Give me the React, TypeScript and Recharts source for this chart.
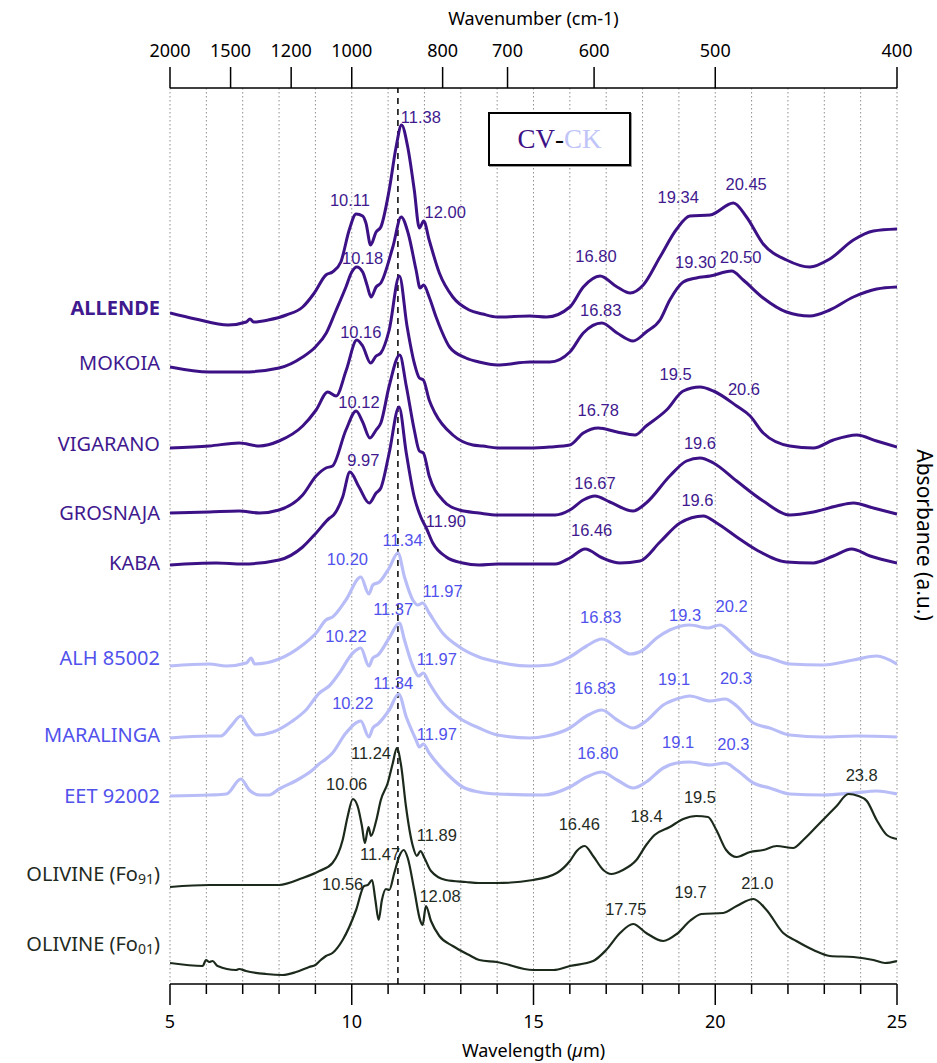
import React from "react";
import {
  LineChart,
  Line,
  XAxis,
  YAxis,
  CartesianGrid,
  ReferenceLine,
  ReferenceDot,
} from "recharts";

type Pt = [number, number];

// spectra: [wavelength (µm), absorbance relative to the spectrum's own 5 µm level (a.u.)]
const allende: Pt[] = [
  [5, 0], [5.7, -0.06], [6.6, -0.12], [7.1, -0.09], [7.2, -0.06], [7.3, -0.09], [7.7, -0.07],
  [8.2, -0.02], [8.65, 0.06], [8.97, 0.2], [9.29, 0.38], [9.47, 0.41], [9.7, 0.51], [9.93, 0.83],
  [10.12, 0.99], [10.3, 0.97], [10.39, 0.9], [10.52, 0.68], [10.67, 0.81], [10.8, 0.86],
  [11.03, 1.23], [11.22, 1.66], [11.37, 1.88], [11.54, 1.66], [11.72, 1.23], [11.86, 0.85],
  [11.98, 0.92], [12.13, 0.73], [12.41, 0.4], [12.78, 0.16], [13.23, 0.03], [13.6, -0.01],
  [14.01, -0.04], [14.9, -0.03], [15.36, -0.04], [16, 0.06], [16.37, 0.26], [16.83, 0.37],
  [17.3, 0.26], [17.66, 0.2], [18.02, 0.28], [18.48, 0.56], [18.94, 0.84], [19.3, 0.97],
  [19.86, 0.98], [20.5, 1.1], [20.86, 0.96], [21.32, 0.69], [21.96, 0.53], [22.6, 0.46],
  [23.15, 0.54], [23.8, 0.73], [24.35, 0.82], [25, 0.84],
];

const mokoia: Pt[] = [
  [5, 0], [6.08, -0.05], [7, -0.05], [8, -0.01], [8.65, 0.1], [9, 0.2], [9.3, 0.34], [9.55, 0.55],
  [9.84, 0.8], [10, 0.95], [10.14, 1.0], [10.3, 0.95], [10.42, 0.82], [10.53, 0.7], [10.67, 0.8],
  [10.8, 0.84], [11.13, 1.2], [11.36, 1.5], [11.55, 1.34], [11.77, 0.97], [11.88, 0.79],
  [11.98, 0.82], [12.13, 0.7], [12.32, 0.5], [12.46, 0.37], [12.69, 0.2], [13.14, 0.09],
  [13.5, 0.05], [14.01, 0.02], [14.9, 0.05], [15.45, 0.05], [16, 0.15], [16.37, 0.34],
  [16.88, 0.44], [17.3, 0.34], [17.74, 0.26], [18.1, 0.35], [18.48, 0.47], [18.75, 0.67],
  [19.12, 0.85], [19.48, 0.89], [19.86, 0.91], [20.45, 0.96], [20.77, 0.87], [21.32, 0.69],
  [21.96, 0.55], [22.6, 0.51], [23.15, 0.57], [23.8, 0.7], [24.44, 0.78], [25, 0.8],
];

const vigarano: Pt[] = [
  [5, 0], [6.08, 0.02], [6.9, 0.05], [7.46, 0.02], [8, 0.07], [8.65, 0.22], [9.02, 0.38],
  [9.34, 0.56], [9.57, 0.52], [9.85, 0.78], [10.14, 1.08], [10.3, 1.02], [10.52, 0.85],
  [10.67, 0.92], [10.8, 0.95], [11.03, 1.18], [11.31, 1.72], [11.52, 1.22], [11.72, 0.85],
  [11.86, 0.7], [11.97, 0.68], [12.13, 0.48], [12.29, 0.35], [12.78, 0.13], [13.33, 0.03],
  [13.6, 0.02], [14.01, 0], [14.9, 0], [15.45, 0.01], [16, 0.03], [16.37, 0.15], [16.78, 0.2],
  [17.3, 0.16], [17.79, 0.13], [18.1, 0.22], [18.66, 0.38], [19.12, 0.57], [19.58, 0.61],
  [19.95, 0.57], [20.59, 0.42], [20.96, 0.32], [21.32, 0.15], [22.05, 0.02], [22.7, 0],
  [23.25, 0.08], [23.89, 0.13], [24.44, 0.07], [25, 0.01],
];

const grosnaja: Pt[] = [
  [5, 0], [6.08, 0.01], [6.9, 0.02], [7.46, 0], [8, 0.03], [8.65, 0.18], [9.02, 0.37],
  [9.29, 0.45], [9.47, 0.47], [9.84, 0.83], [10.12, 1.02], [10.3, 0.91], [10.5, 0.75],
  [10.67, 0.83], [10.8, 0.9], [11.03, 1.27], [11.32, 1.58], [11.5, 1.27], [11.72, 0.83],
  [11.86, 0.62], [11.97, 0.6], [12.13, 0.37], [12.5, 0.13], [12.96, 0.03], [13.5, 0],
  [14.01, -0.02], [14.9, -0.02], [15.6, -0.02], [16, 0.03], [16.37, 0.13], [16.69, 0.17],
  [17.1, 0.11], [17.74, 0.02], [18.1, 0.1], [18.75, 0.37], [19.21, 0.52], [19.58, 0.55],
  [19.95, 0.5], [20.59, 0.32], [21.32, 0.12], [22.05, -0.02], [22.7, 0.01], [23.34, 0.07],
  [23.8, 0.1], [24.35, 0.05], [25, -0.01],
];

const kaba: Pt[] = [
  [5, 0], [6.27, 0.02], [7, 0.01], [8, 0.05], [8.65, 0.18], [9.02, 0.32], [9.39, 0.47],
  [9.5, 0.5], [9.75, 0.68], [9.95, 0.93], [10.2, 0.78], [10.48, 0.62], [10.67, 0.72],
  [10.8, 0.77], [11.03, 1.12], [11.3, 1.58], [11.5, 1.12], [11.72, 0.68], [11.9, 0.48],
  [12.05, 0.37], [12.23, 0.22], [12.6, 0.08], [13.05, 0.02], [13.5, 0], [14.01, 0.01],
  [15.6, 0.01], [16, 0.07], [16.42, 0.16], [16.9, 0.07], [17.38, 0.02], [17.93, 0.04],
  [18.48, 0.23], [19.03, 0.42], [19.67, 0.49], [20.04, 0.42], [20.59, 0.28], [21.14, 0.15],
  [21.96, 0.03], [22.7, 0.02], [23.25, 0.09], [23.75, 0.16], [24.26, 0.09], [25, 0.02],
];

const alh85002: Pt[] = [
  [5, 0], [6.08, 0.02], [6.55, 0], [7.1, 0.03], [7.23, 0.08], [7.33, 0.02], [8, 0.07],
  [8.65, 0.21], [9.02, 0.33], [9.29, 0.46], [9.47, 0.49], [9.84, 0.66], [10.25, 0.89],
  [10.47, 0.72], [10.58, 0.81], [10.76, 0.84], [11.03, 0.98], [11.27, 1.13], [11.45, 0.89],
  [11.68, 0.66], [11.82, 0.61], [11.95, 0.63], [12.13, 0.53], [12.5, 0.33], [12.96, 0.19],
  [13.5, 0.09], [14.01, 0.04], [14.9, 0], [15.45, 0.01], [16, 0.09], [16.46, 0.2], [16.88, 0.27],
  [17.3, 0.19], [17.66, 0.12], [18.02, 0.16], [18.39, 0.28], [18.75, 0.36], [19.3, 0.41],
  [19.8, 0.38], [20.13, 0.41], [20.5, 0.31], [21.05, 0.13], [21.5, 0.08], [22.05, 0.02],
  [22.97, 0.01], [23.8, 0.06], [24.44, 0.1], [25, 0.02],
];

const maralinga: Pt[] = [
  [5, 0], [6.08, 0.02], [6.4, 0.02], [6.68, 0.12], [6.95, 0.22], [7.14, 0.12], [7.37, 0.03],
  [7.83, 0.06], [8.37, 0.17], [8.74, 0.28], [9.11, 0.45], [9.38, 0.52], [9.66, 0.65],
  [10.03, 0.85], [10.25, 0.9], [10.47, 0.72], [10.58, 0.8], [10.72, 0.83], [11.03, 1.0],
  [11.31, 1.15], [11.45, 0.98], [11.68, 0.72], [11.84, 0.62], [11.97, 0.65], [12.13, 0.55],
  [12.5, 0.35], [12.96, 0.2], [13.5, 0.1], [14.01, 0.03], [14.9, 0], [15.36, 0.02], [16, 0.1],
  [16.46, 0.22], [16.88, 0.28], [17.3, 0.18], [17.74, 0.1], [18.1, 0.17], [18.57, 0.33],
  [18.94, 0.39], [19.3, 0.42], [19.86, 0.37], [20.27, 0.39], [20.59, 0.32], [21.05, 0.15],
  [21.5, 0.1], [22.05, 0.03], [22.97, 0.01], [23.89, 0.02], [25, 0.01],
];

const eet92002: Pt[] = [
  [5, 0], [6.08, 0.01], [6.55, 0.02], [6.95, 0.17], [7.18, 0.06], [7.46, 0.01], [7.73, 0.01],
  [8, 0.07], [8.5, 0.16], [8.92, 0.26], [9.1, 0.32], [9.29, 0.37], [9.47, 0.43], [9.84, 0.63],
  [10.25, 0.75], [10.47, 0.59], [10.58, 0.68], [10.72, 0.72], [11.03, 0.86], [11.29, 1.02],
  [11.5, 0.79], [11.77, 0.56], [11.86, 0.49], [11.97, 0.52], [12.13, 0.43], [12.6, 0.23],
  [13.05, 0.09], [13.5, 0.04], [14.01, 0.02], [15.27, 0.01], [16, 0.09], [16.46, 0.19],
  [16.88, 0.24], [17.3, 0.16], [17.74, 0.08], [18.1, 0.14], [18.57, 0.28], [18.94, 0.33],
  [19.3, 0.34], [19.86, 0.31], [20.27, 0.33], [20.59, 0.26], [21.05, 0.13], [21.5, 0.08],
  [22.05, 0.02], [22.97, 0.01], [23.8, 0.03], [24.44, 0.05], [25, 0.02],
];

const olivineFo91: Pt[] = [
  [5, 0], [6.08, 0.02], [7, 0.02], [8, 0.02], [8.65, 0.09], [9.11, 0.16], [9.47, 0.24],
  [9.75, 0.47], [9.89, 0.71], [10.03, 0.88], [10.16, 0.81], [10.28, 0.61], [10.36, 0.44],
  [10.46, 0.6], [10.53, 0.51], [10.67, 0.66], [10.8, 0.87], [10.99, 1.04], [11.13, 1.24],
  [11.24, 1.39], [11.36, 1.21], [11.49, 0.81], [11.68, 0.41], [11.79, 0.31], [11.89, 0.36],
  [12, 0.29], [12.18, 0.16], [12.59, 0.07], [13.14, 0.05], [13.5, 0.04], [14, 0.04],
  [14.99, 0.07], [15.64, 0.14], [16, 0.26], [16.19, 0.36], [16.41, 0.41], [16.64, 0.31],
  [16.92, 0.17], [17.14, 0.13], [17.46, 0.17], [17.83, 0.27], [18.1, 0.42], [18.33, 0.52],
  [18.75, 0.6], [19.12, 0.68], [19.48, 0.71], [19.8, 0.7], [20.03, 0.57], [20.3, 0.37],
  [20.59, 0.3], [20.96, 0.35], [21.32, 0.37], [21.69, 0.41], [22.14, 0.39], [22.42, 0.47],
  [22.88, 0.64], [23.34, 0.81], [23.66, 0.93], [23.94, 0.91], [24.17, 0.86], [24.44, 0.67],
  [24.72, 0.52], [25, 0.48],
];

const olivineFo01: Pt[] = [
  [5, 0], [5.9, -0.03], [5.99, 0.03], [6.08, 0.01], [6.17, 0.02], [6.31, -0.03], [6.82, -0.07],
  [6.9, -0.06], [7.09, -0.08], [7.64, -0.11], [8.1, -0.12], [8.47, -0.09], [8.83, -0.04],
  [9, -0.02], [9.15, 0.03], [9.29, 0.07], [9.47, 0.1], [9.75, 0.23], [10.12, 0.53], [10.34, 0.77],
  [10.44, 0.78], [10.56, 0.83], [10.65, 0.63], [10.74, 0.43], [10.83, 0.63], [10.94, 0.74],
  [11.03, 0.73], [11.17, 0.9], [11.31, 1.07], [11.43, 1.13], [11.54, 1.05], [11.72, 0.73],
  [11.88, 0.43], [11.95, 0.38], [12.04, 0.57], [12.18, 0.42], [12.41, 0.27], [12.78, 0.17],
  [13.23, 0.08], [13.51, 0.03], [13.99, 0.01], [14.99, -0.07], [15.55, -0.07], [16, -0.03],
  [16.64, 0.02], [17, 0.13], [17.38, 0.3], [17.74, 0.39], [18.1, 0.3], [18.57, 0.22],
  [18.94, 0.29], [19.3, 0.42], [19.62, 0.49], [20.22, 0.5], [20.59, 0.57], [21.05, 0.64],
  [21.41, 0.53], [21.87, 0.3], [22.23, 0.22], [22.7, 0.13], [23.15, 0.07], [23.8, 0.06],
  [24.35, 0.03], [24.67, 0], [25, 0.02],
];

// stacking offsets (a.u.), top to bottom
const stackOffsets = [6.71, 6.17, 5.36, 4.71, 4.19, 3.18, 2.46, 1.88, 0.97, 0.21];
const sampleNames = [
  "ALLENDE", "MOKOIA", "VIGARANO", "GROSNAJA", "KABA",
  "ALH 85002", "MARALINGA", "EET 92002", "OLIVINE (Fo91)", "OLIVINE (Fo01)",
];
const sampleLabelLevels = [6.77, 6.22, 5.41, 4.72, 4.22, 3.27, 2.5, 1.89, 1.11, 0.41];
const spectra = [
  allende, mokoia, vigarano, grosnaja, kaba, alh85002, maralinga, eet92002, olivineFo91, olivineFo01,
];
const groups = ["cv", "cv", "cv", "cv", "cv", "ck", "ck", "ck", "ol", "ol"];

// band position labels: [text, wavelength, level]
const cvPeaks: [string, number, number][] = [
  ["11.38", 11.9, 8.67], ["10.11", 9.95, 7.84], ["12.00", 12.57, 7.72], ["10.18", 10.3, 7.26],
  ["16.80", 16.72, 7.28], ["19.34", 18.98, 7.87], ["20.45", 20.85, 8.0], ["19.30", 19.46, 7.22],
  ["20.50", 20.7, 7.27], ["16.83", 16.85, 6.74], ["10.16", 10.25, 6.52], ["10.12", 10.2, 5.82],
  ["9.97", 10.32, 5.24], ["11.90", 12.59, 4.63], ["19.5", 18.91, 6.1], ["20.6", 20.79, 5.95],
  ["16.78", 16.78, 5.74], ["19.6", 19.58, 5.41], ["16.67", 16.69, 5.01], ["19.6", 19.51, 4.84],
  ["16.46", 16.6, 4.54],
];
const ckPeaks: [string, number, number][] = [
  ["11.34", 11.4, 4.44], ["10.20", 9.88, 4.25], ["11.97", 12.5, 3.93], ["16.83", 16.85, 3.67],
  ["19.3", 19.17, 3.69], ["20.2", 20.45, 3.78], ["11.37", 11.14, 3.75], ["10.22", 9.84, 3.48],
  ["11.97", 12.34, 3.25], ["16.83", 16.69, 2.96], ["19.1", 18.87, 3.05], ["20.3", 20.57, 3.06],
  ["11.34", 11.14, 3.01], ["10.22", 10.03, 2.81], ["11.97", 12.34, 2.5], ["16.80", 16.77, 2.31],
  ["19.1", 18.98, 2.42], ["20.3", 20.5, 2.4],
];
const olivinePeaks: [string, number, number][] = [
  ["23.8", 24.03, 2.09], ["11.24", 10.53, 2.31], ["10.06", 9.86, 2.0], ["11.89", 12.34, 1.49],
  ["11.47", 10.78, 1.3], ["10.56", 9.75, 1.0], ["12.08", 12.43, 0.88], ["16.46", 16.26, 1.6],
  ["18.4", 18.11, 1.68], ["19.5", 19.58, 1.87], ["17.75", 17.54, 0.75], ["19.7", 19.32, 0.92],
  ["21.0", 21.16, 1.01],
];

const wavelengthTicks = [5, 6, 7, 8, 9, 10, 11, 12, 13, 14, 15, 16, 17, 18, 19, 20, 21, 22, 23, 24, 25];
const wavenumberTicks = [2000, 1500, 1200, 1000, 800, 700, 600, 500, 400];
const dashedAt = 11.27;

const lineColor: Record<string, string> = { cv: "#3d1186", ck: "#b8bdf7", ol: "#1c2a1c" };
const textColor: Record<string, string> = { cv: "#40198e", ck: "#5152ec", ol: "#1f2b1f" };
const lineWidth: Record<string, number> = { cv: 3, ck: 3.2, ol: 2.2 };

const AXIS_FONT = "'Noto Sans', 'DejaVu Sans', sans-serif";
const LABEL_FONT = "'Liberation Sans', Arial, sans-serif";
const axisStyle = { stroke: "#000", strokeWidth: 1.5 };

function BottomTick(props: any) {
  const { x, y, payload } = props;
  const v = payload.value;
  const major = v % 5 === 0;
  return (
    <g>
      <line x1={x} y1={y} x2={x} y2={y + (major ? 21 : 10)} stroke="#000" strokeWidth={1.5} />
      {major && (
        <text x={x} y={y + 37} textAnchor="middle" dominantBaseline="central" fontSize={18} fontFamily={AXIS_FONT} fill="#000">
          {v}
        </text>
      )}
    </g>
  );
}

function TopTick(props: any) {
  const { x, y, payload } = props;
  return (
    <g>
      <line x1={x} y1={y} x2={x} y2={y - 21} stroke="#000" strokeWidth={1.5} />
      <text x={x} y={y - 38} textAnchor="middle" dominantBaseline="central" fontSize={18} fontFamily={AXIS_FONT} fill="#000">
        {Math.round(10000 / payload.value)}
      </text>
    </g>
  );
}

function sampleLabel(name: string, color: string, bold: boolean) {
  const m = name.match(/^(.*\(Fo)(\d+)\)$/);
  return (props: any) => {
    const vb = props.viewBox || {};
    return (
      <text
        x={(vb.x ?? 0) - 10}
        y={vb.y ?? 0}
        textAnchor="end"
        dominantBaseline="central"
        fill={color}
        fontSize={20}
        fontWeight={bold ? 700 : 400}
        fontFamily={AXIS_FONT}
      >
        {m ? (
          <>
            {m[1]}
            <tspan fontSize={14} dy={5}>{m[2]}</tspan>
            <tspan dy={-5}>)</tspan>
          </>
        ) : (
          name
        )}
      </text>
    );
  };
}

export default function App() {
  const peakDots = [
    ...cvPeaks.map((p) => ({ p, g: "cv" })),
    ...ckPeaks.map((p) => ({ p, g: "ck" })),
    ...olivinePeaks.map((p) => ({ p, g: "ol" })),
  ];
  return (
    <div style={{ position: "absolute", left: 0, top: 0, width: 937, height: 1063, background: "#fff" }}>
      <LineChart width={937} height={1063} margin={{ top: 58, right: 40, bottom: 49, left: 170 }}>
        <CartesianGrid horizontal={false} stroke="#8f8f8f" strokeDasharray="1.5 2.5" />
        <XAxis
          xAxisId="top"
          orientation="top"
          type="number"
          dataKey="x"
          domain={[5, 25]}
          ticks={wavenumberTicks.map((n) => 10000 / n)}
          interval={0}
          height={30}
          tickSize={0}
          tickMargin={0}
          tickLine={false}
          axisLine={axisStyle}
          tick={(p: any) => <TopTick {...p} />}
          allowDataOverflow
        />
        <XAxis
          type="number"
          dataKey="x"
          domain={[5, 25]}
          ticks={wavelengthTicks}
          interval={0}
          height={30}
          tickSize={0}
          tickMargin={0}
          tickLine={false}
          axisLine={axisStyle}
          tick={(p: any) => <BottomTick {...p} />}
          allowDataOverflow
        />
        <YAxis hide type="number" domain={[0, 8.96]} allowDataOverflow />
        <ReferenceLine x={dashedAt} stroke="#000" strokeWidth={1.5} strokeDasharray="6 5" />
        {spectra.map((pts, i) => (
          <Line
            key={sampleNames[i]}
            data={pts.map(([x, a]) => ({ x, y: stackOffsets[i] + a }))}
            dataKey="y"
            type="monotone"
            dot={false}
            activeDot={false}
            stroke={lineColor[groups[i]]}
            strokeWidth={lineWidth[groups[i]]}
            strokeLinejoin="round"
            isAnimationActive={false}
          />
        ))}
        {peakDots.map(({ p, g }, i) => (
          <ReferenceDot
            key={"pk" + i}
            x={p[1]}
            y={p[2]}
            r={0}
            fill="none"
            stroke="none"
            ifOverflow="visible"
            label={{ value: p[0], position: "center", fill: textColor[g], fontSize: 16.5, fontFamily: LABEL_FONT }}
          />
        ))}
        {sampleNames.map((name, i) => (
          <ReferenceDot
            key={"nm" + i}
            x={5}
            y={sampleLabelLevels[i]}
            r={0}
            fill="none"
            stroke="none"
            ifOverflow="visible"
            label={sampleLabel(name, textColor[groups[i]], i === 0)}
          />
        ))}
      </LineChart>

      <div style={{ position: "absolute", left: 170, width: 727, top: 7, textAlign: "center", fontFamily: AXIS_FONT, fontSize: 18, lineHeight: "22px" }}>
        Wavenumber (cm-1)
      </div>
      <div style={{ position: "absolute", left: 170, width: 727, top: 1039, textAlign: "center", fontFamily: AXIS_FONT, fontSize: 18, lineHeight: "22px" }}>
        Wavelength (<i>µ</i>m)
      </div>
      <div
        style={{
          position: "absolute",
          left: 925,
          top: 535,
          transform: "translate(-50%, -50%) rotate(90deg)",
          whiteSpace: "nowrap",
          fontFamily: AXIS_FONT,
          fontSize: 21,
          lineHeight: "24px",
        }}
      >
        Absorbance (a.u.)
      </div>
      <div
        style={{
          position: "absolute",
          left: 488,
          top: 112,
          width: 139,
          height: 50,
          border: "2px solid #000",
          boxShadow: "1px 1px 0 #999",
          display: "flex",
          alignItems: "center",
          justifyContent: "center",
          fontFamily: "'Liberation Serif', 'Times New Roman', serif",
          fontSize: 27,
          background: "#fff",
        }}
      >
        <span style={{ color: "#3d1186" }}>CV</span>
        <span style={{ color: "#000" }}>-</span>
        <span style={{ color: "#c0c4f8" }}>CK</span>
      </div>
    </div>
  );
}
